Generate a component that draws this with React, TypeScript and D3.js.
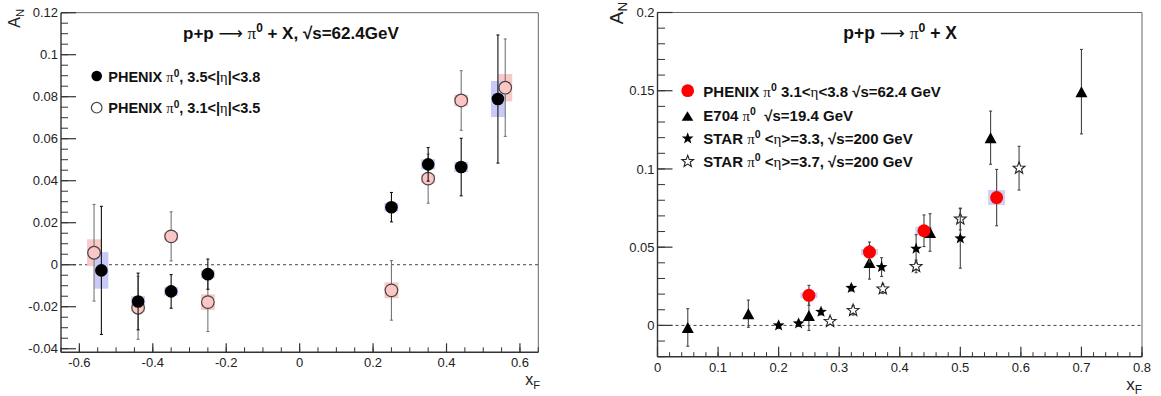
import * as d3 from "d3";

const W = 1161;
const H = 396;

// ---------- left panel data: PHENIX pi0 at sqrt(s)=62.4 GeV ----------
const hiEtaX = [-0.54, -0.44, -0.35, -0.25, 0.25, 0.35, 0.44, 0.54];
const hiEtaAN = [-0.0027, -0.0175, -0.0127, -0.0045, 0.0274, 0.0478, 0.0465, 0.0789];
const hiEtaStat = [0.0305, 0.0135, 0.008, 0.0072, 0.007, 0.008, 0.0137, 0.0305];
const hiEtaSys = [0.0087, 0.0025, 0.002, 0.002, 0.002, 0.0024, 0.0024, 0.0086];

const loEtaX = [-0.56, -0.44, -0.35, -0.25, 0.25, 0.35, 0.44, 0.56];
const loEtaAN = [0.0057, -0.0205, 0.0135, -0.0178, -0.0122, 0.041, 0.0782, 0.0843];
const loEtaStat = [0.023, 0.015, 0.0117, 0.014, 0.0142, 0.0117, 0.0142, 0.0232];
const loEtaSys = [0.0064, 0.002, 0.002, 0.0037, 0.0038, 0.0022, 0.0027, 0.0065];

// ---------- right panel data: world comparison ----------
const phenixX = [0.25, 0.35, 0.44, 0.56];
const phenixAN = [0.0192, 0.0469, 0.0605, 0.0817];
const phenixStat = [0.0064, 0.0064, 0.0101, 0.018];
const phenixSys = [0.0018, 0.002, 0.0025, 0.0048];

const e704X = [0.05, 0.15, 0.25, 0.35, 0.45, 0.55, 0.7];
const e704AN = [-0.0013, 0.0075, 0.0064, 0.0402, 0.0594, 0.12, 0.1494];
const e704Err = [0.012, 0.0087, 0.0096, 0.0106, 0.012, 0.017, 0.027];

const star33X = [0.2, 0.233, 0.27, 0.32, 0.37, 0.427, 0.5];
const star33AN = [0.0, 0.0013, 0.0087, 0.024, 0.0373, 0.049, 0.0556];
const star33Err = [0.002, 0.002, 0.002, 0.002, 0.006, 0.009, 0.019];

const star37X = [0.285, 0.323, 0.372, 0.427, 0.5, 0.597];
const star37AN = [0.0026, 0.0096, 0.0234, 0.0377, 0.068, 0.1005];
const star37Err = [0.002, 0.003, 0.003, 0.004, 0.007, 0.014];

// ---------- ticks ----------
const leftXTicks = [-0.6, -0.4, -0.2, 0, 0.2, 0.4, 0.6];
const leftXLabels = ["-0.6", "-0.4", "-0.2", "0", "0.2", "0.4", "0.6"];
const leftYTicks = [-0.04, -0.02, 0, 0.02, 0.04, 0.06, 0.08, 0.1, 0.12];
const leftYLabels = ["-0.04", "-0.02", "0", "0.02", "0.04", "0.06", "0.08", "0.1", "0.12"];

const rightXTicks = [0, 0.1, 0.2, 0.3, 0.4, 0.5, 0.6, 0.7, 0.8];
const rightXLabels = ["0", "0.1", "0.2", "0.3", "0.4", "0.5", "0.6", "0.7", "0.8"];
const rightYTicks = [0, 0.05, 0.1, 0.15, 0.2];
const rightYLabels = ["0", "0.05", "0.1", "0.15", "0.2"];

const sans = "'Liberation Sans', Arial, Helvetica, sans-serif";
const serif = "'Liberation Serif', 'Times New Roman', serif";

const pinkBox = "#f9c8c8";
const blueBox = "#c9c9f7";

type Sx = d3.ScaleLinear<number, number>;

function starPath(R: number) {
  const r = R * 0.42;
  const pts: string[] = [];
  for (let i = 0; i < 10; i++) {
    const a = ((-90 + i * 36) * Math.PI) / 180;
    const rr = i % 2 ? r : R;
    pts.push(`${(rr * Math.cos(a)).toFixed(2)},${(rr * Math.sin(a)).toFixed(2)}`);
  }
  return "M" + pts.join("L") + "Z";
}

function triPath(w: number, h: number) {
  return `M0,${-h / 2}L${w / 2},${h / 2}L${-w / 2},${h / 2}Z`;
}

function Frame(props: {
  x: Sx;
  y: Sx;
  xTicks: number[];
  xLabels: string[];
  yTicks: number[];
  yLabels: string[];
  xMinor: number;
  yMinor: number;
  yMajorLen: number;
  yMinorLen: number;
  xMajorLen: number;
  xMinorLen: number;
}) {
  const { x, y } = props;
  const [x0, x1] = x.range();
  const [y0, y1] = y.range(); // y0 bottom, y1 top
  const [dx0, dx1] = x.domain();
  const [dy0, dy1] = y.domain();
  const xMinors = d3
    .range(Math.ceil(dx0 / props.xMinor - 1e-6), Math.floor(dx1 / props.xMinor + 1e-6) + 1)
    .map((k) => k * props.xMinor);
  const yMinors = d3
    .range(Math.ceil(dy0 / props.yMinor - 1e-6), Math.floor(dy1 / props.yMinor + 1e-6) + 1)
    .map((k) => k * props.yMinor);
  return (
    <g>
      <line x1={x0} x2={x1} y1={y1} y2={y1} stroke="#666" strokeWidth={1} />
      <line x1={x1} x2={x1} y1={y1} y2={y0} stroke="#666" strokeWidth={1} />
      <line x1={x0} x2={x1} y1={y0} y2={y0} stroke="#333" strokeWidth={1.4} />
      <line x1={x0} x2={x0} y1={y1} y2={y0} stroke="#333" strokeWidth={1.4} />
      {xMinors.map((v, i) => (
        <line key={"xm" + i} x1={x(v)} x2={x(v)} y1={y0} y2={y0 - props.xMinorLen} stroke="#333" />
      ))}
      {props.xTicks.map((v, i) => (
        <g key={"xt" + i}>
          <line x1={x(v)} x2={x(v)} y1={y0} y2={y0 - props.xMajorLen} stroke="#333" strokeWidth={1.2} />
          <text x={x(v)} y={y0 + 15} textAnchor="middle" fontSize={13} fontFamily={sans} fill="#222">
            {props.xLabels[i]}
          </text>
        </g>
      ))}
      {yMinors.map((v, i) => (
        <line key={"ym" + i} x1={x0} x2={x0 + props.yMinorLen} y1={y(v)} y2={y(v)} stroke="#333" />
      ))}
      {props.yTicks.map((v, i) => (
        <g key={"yt" + i}>
          <line x1={x0} x2={x0 + props.yMajorLen} y1={y(v)} y2={y(v)} stroke="#333" strokeWidth={1.2} />
          <text x={x0 - 3} y={y(v)} dy="0.36em" textAnchor="end" fontSize={13} fontFamily={sans} fill="#222">
            {props.yLabels[i]}
          </text>
        </g>
      ))}
      <line x1={x0} x2={x1} y1={y(0)} y2={y(0)} stroke="#444" strokeWidth={1} strokeDasharray="3,3" />
    </g>
  );
}

function ErrBars(props: { x: Sx; y: Sx; xs: number[]; ys: number[]; errs: number[]; color: string }) {
  const { x, y } = props;
  return (
    <g stroke={props.color} strokeWidth={1.1}>
      {props.xs.map((v, i) => {
        const cx = x(v);
        const top = y(props.ys[i] + props.errs[i]);
        const bot = y(props.ys[i] - props.errs[i]);
        return (
          <g key={i}>
            <line x1={cx} x2={cx} y1={top} y2={bot} />
            <line x1={cx - 1.5} x2={cx + 1.5} y1={top} y2={top} />
            <line x1={cx - 1.5} x2={cx + 1.5} y1={bot} y2={bot} />
          </g>
        );
      })}
    </g>
  );
}

function SysBoxes(props: { x: Sx; y: Sx; xs: number[]; ys: number[]; sys: number[]; halfW: number; fill: string }) {
  const { x, y } = props;
  return (
    <g fill={props.fill}>
      {props.xs.map((v, i) => (
        <rect
          key={i}
          x={x(v - props.halfW)}
          width={x(v + props.halfW) - x(v - props.halfW)}
          y={y(props.ys[i] + props.sys[i])}
          height={y(props.ys[i] - props.sys[i]) - y(props.ys[i] + props.sys[i])}
        />
      ))}
    </g>
  );
}

function Pi0() {
  return (
    <>
      <tspan fontFamily={serif} fontWeight="normal">π</tspan>
      <tspan fontSize="70%" baselineShift="super">0</tspan>
    </>
  );
}

function Arrow() {
  return (
    <tspan fontFamily="'DejaVu Sans', sans-serif" fontWeight="normal">
      {"\u27f6"}
    </tspan>
  );
}

export default function App() {
  // left panel scales
  const lx = d3.scaleLinear().domain([-0.65, 0.65]).range([61, 538.3]);
  const ly = d3.scaleLinear().domain([-0.0417, 0.12]).range([352.3, 12.7]);
  // right panel scales
  const rx = d3.scaleLinear().domain([0, 0.8]).range([657.5, 1142]);
  const ry = d3.scaleLinear().domain([-0.02, 0.2]).range([356.7, 12.5]);

  const star = starPath(6.2);
  const tri = triPath(12, 11);

  return (
    <svg
      width={W}
      height={H}
      viewBox={`0 0 ${W} ${H}`}
      style={{ position: "absolute", left: 0, top: 0, background: "#fff" }}
    >
      <rect width={W} height={H} fill="#fff" />

      {/* ===== left panel ===== */}
      <Frame
        x={lx}
        y={ly}
        xTicks={leftXTicks}
        xLabels={leftXLabels}
        yTicks={leftYTicks}
        yLabels={leftYLabels}
        xMinor={0.05}
        yMinor={0.005}
        yMajorLen={15}
        yMinorLen={7}
        xMajorLen={9}
        xMinorLen={5}
      />
      <SysBoxes x={lx} y={ly} xs={loEtaX} ys={loEtaAN} sys={loEtaSys} halfW={0.019} fill={pinkBox} />
      <SysBoxes x={lx} y={ly} xs={hiEtaX} ys={hiEtaAN} sys={hiEtaSys} halfW={0.019} fill={blueBox} />
      <ErrBars x={lx} y={ly} xs={loEtaX} ys={loEtaAN} errs={loEtaStat} color="#777" />
      {loEtaX.map((v, i) => (
        <circle key={"lo" + i} cx={lx(v)} cy={ly(loEtaAN[i])} r={6.3} fill="#fdc6c6" stroke="#444" strokeWidth={1.2} />
      ))}
      <ErrBars x={lx} y={ly} xs={hiEtaX} ys={hiEtaAN} errs={hiEtaStat} color="#111" />
      {hiEtaX.map((v, i) => (
        <circle key={"hi" + i} cx={lx(v)} cy={ly(hiEtaAN[i])} r={6.3} fill="#000" />
      ))}

      <text x={20} y={9} transform="rotate(-90 20 9)" textAnchor="end" fontSize={16} fontFamily={sans} fill="#222">
        A<tspan fontSize="70%" dy={4}>N</tspan>
      </text>
      <text x={540} y={385} textAnchor="end" fontSize={16} fontFamily={sans} fill="#222">
        x<tspan fontSize="70%" dy={4}>F</tspan>
      </text>

      <text x={183} y={39.3} fontSize={17} fontWeight="bold" fontFamily={sans} fill="#111">
        p+p <Arrow /> <Pi0 /> + X, √s=62.4GeV
      </text>

      <circle cx={96.7} cy={76} r={5.3} fill="#000" />
      <text x={108.3} y={81.7} fontSize={14.5} fontWeight="bold" fontFamily={sans} fill="#111">
        PHENIX <Pi0 />, 3.5&lt;|<tspan fontFamily={serif} fontWeight="normal">η</tspan>|&lt;3.8
      </text>
      <circle cx={96.7} cy={107.7} r={5.3} fill="#fff" stroke="#444" strokeWidth={1.2} />
      <text x={108.3} y={113.3} fontSize={14.5} fontWeight="bold" fontFamily={sans} fill="#111">
        PHENIX <Pi0 />, 3.1&lt;|<tspan fontFamily={serif} fontWeight="normal">η</tspan>|&lt;3.5
      </text>

      {/* ===== right panel ===== */}
      <Frame
        x={rx}
        y={ry}
        xTicks={rightXTicks}
        xLabels={rightXLabels}
        yTicks={rightYTicks}
        yLabels={rightYLabels}
        xMinor={0.02}
        yMinor={0.01}
        yMajorLen={15}
        yMinorLen={7.5}
        xMajorLen={10}
        xMinorLen={4.5}
      />
      <SysBoxes x={rx} y={ry} xs={phenixX} ys={phenixAN} sys={phenixSys} halfW={0.014} fill="#cfd0f8" />

      <ErrBars x={rx} y={ry} xs={star37X} ys={star37AN} errs={star37Err} color="#444" />
      {star37X.map((v, i) => (
        <path key={"s37" + i} d={star} transform={`translate(${rx(v)},${ry(star37AN[i])})`} fill="#fff" stroke="#222" strokeWidth={1.1} />
      ))}
      <ErrBars x={rx} y={ry} xs={star33X} ys={star33AN} errs={star33Err} color="#444" />
      {star33X.map((v, i) => (
        <path key={"s33" + i} d={star} transform={`translate(${rx(v)},${ry(star33AN[i])})`} fill="#000" />
      ))}
      <ErrBars x={rx} y={ry} xs={e704X} ys={e704AN} errs={e704Err} color="#444" />
      {e704X.map((v, i) => (
        <path key={"e" + i} d={tri} transform={`translate(${rx(v)},${ry(e704AN[i])})`} fill="#000" />
      ))}
      <ErrBars x={rx} y={ry} xs={phenixX} ys={phenixAN} errs={phenixStat} color="#444" />
      {phenixX.map((v, i) => (
        <circle key={"p" + i} cx={rx(v)} cy={ry(phenixAN[i])} r={6.5} fill="#f00" />
      ))}

      <text x={623} y={2} transform="rotate(-90 623 2)" textAnchor="end" fontSize={19} fontFamily={sans} fill="#222">
        A<tspan fontSize="70%" dy={4}>N</tspan>
      </text>
      <text x={1142} y={390} textAnchor="end" fontSize={17} fontFamily={sans} fill="#222">
        x<tspan fontSize="70%" dy={4}>F</tspan>
      </text>

      <text x={843.3} y={39.3} fontSize={17.5} fontWeight="bold" fontFamily={sans} fill="#111">
        p+p <Arrow /> <Pi0 /> + X
      </text>

      <circle cx={687.7} cy={90.7} r={6.4} fill="#f00" />
      <text x={703.3} y={96.5} fontSize={15} fontWeight="bold" fontFamily={sans} fill="#111">
        PHENIX <Pi0 /> 3.1&lt;<tspan fontFamily={serif} fontWeight="normal">η</tspan>&lt;3.8 √s=62.4 GeV
      </text>
      <path d={triPath(11.6, 9.5)} transform="translate(687.5,116)" fill="#000" />
      <text x={703.3} y={121} fontSize={15} fontWeight="bold" fontFamily={sans} fill="#111">
        E704 <Pi0 />{"\u00a0"} √s=19.4 GeV
      </text>
      <path d={star} transform="translate(687.7,138.5)" fill="#000" />
      <text x={703.3} y={143.8} fontSize={15} fontWeight="bold" fontFamily={sans} fill="#111">
        STAR <Pi0 /> &lt;<tspan fontFamily={serif} fontWeight="normal">η</tspan>&gt;=3.3, √s=200 GeV
      </text>
      <path d={star} transform="translate(687.7,161.5)" fill="#fff" stroke="#222" strokeWidth={1.1} />
      <text x={703.3} y={167} fontSize={15} fontWeight="bold" fontFamily={sans} fill="#111">
        STAR <Pi0 /> &lt;<tspan fontFamily={serif} fontWeight="normal">η</tspan>&gt;=3.7, √s=200 GeV
      </text>
    </svg>
  );
}
